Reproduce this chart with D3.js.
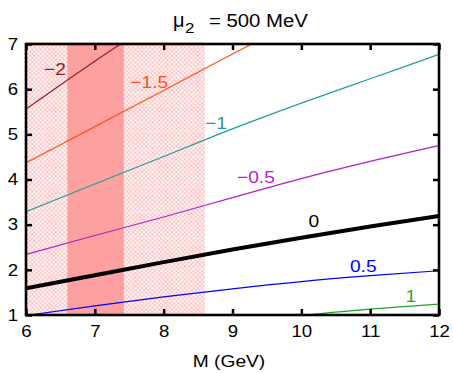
<!DOCTYPE html>
<html>
<head>
<meta charset="utf-8">
<script src="https://cdn.jsdelivr.net/npm/d3@7/dist/d3.min.js"></script>
<style>
  body { margin: 0; background: #fff; }
  text { font-family: "Liberation Sans", Arial, sans-serif; }
</style>
</head>
<body>
<figure id="chart" style="margin:0"></figure>
<script>
// chart values
const massGrid = [6, 7, 8, 9, 10, 11, 12];
const curveLevels = ['\u22122', '\u22121.5', '\u22121', '\u22120.5', '0', '0.5', '1'];
const curveValues = [
  [5.56, 6.62, 7.62, null, null, null, null],
  [4.37, 5.17, 5.97, 6.78, 7.55, null, null],
  [3.29, 3.90, 4.51, 5.12, 5.69, 6.23, 6.77],
  [2.34, 2.76, 3.17, 3.60, 4.02, 4.40, 4.75],
  [1.59, 1.88, 2.17, 2.45, 2.71, 2.96, 3.19],
  [0.99, 1.20, 1.40, 1.58, 1.74, 1.87, 1.98],
  [null, null, null, null, 0.99, 1.13, 1.24]
];
const curveColors = ['#9b1b1b', '#ff4f1a', '#1f9e9e', '#b51fc0', '#000000', '#0000ff', '#1faa1f'];
const curveWidths = [1.2, 1.2, 1.2, 1.2, 4, 1.2, 1.2];
// label anchors in data coordinates (M, value)
const labelMass = [6.42, 7.79, 8.76, 9.34, 10.18, 10.90, 11.59];
const labelValue = [6.31, 6.03, 5.12, 3.92, 2.95, 1.95, 1.29];
const hatchRange = [6, 8.59];
const solidRange = [6.6, 7.42];
const xTicks = [6, 7, 8, 9, 10, 11, 12];
const yTicks = [1, 2, 3, 4, 5, 6, 7];

const width = 453;
const height = 373;
const margin = {left: 26, right: 14, top: 44, bottom: 58};
const stretch = 'scale(1.13,1)';

const svg = d3.select('figure#chart')
  .append('svg')
  .attr('width', width)
  .attr('height', height);

const x = d3.scaleLinear().domain([6, 12]).range([margin.left, width - margin.right]);
const y = d3.scaleLinear().domain([1, 7]).range([height - margin.bottom, margin.top]);

const defs = svg.append('defs');
defs.append('clipPath').attr('id', 'plotClip')
  .append('rect')
  .attr('x', x(6)).attr('y', y(7))
  .attr('width', x(12) - x(6)).attr('height', y(1) - y(7));

const hatch = defs.append('pattern')
  .attr('id', 'hatch')
  .attr('patternUnits', 'userSpaceOnUse')
  .attr('width', 4.3)
  .attr('height', 4.3);
hatch.append('path')
  .attr('d', 'M0,0L4.3,4.3M4.3,0L0,4.3')
  .attr('stroke', '#ffbdbd')
  .attr('stroke-width', 0.9);

// excluded regions
svg.append('rect')
  .attr('x', x(hatchRange[0])).attr('y', y(7) - 1.5)
  .attr('width', x(hatchRange[1]) - x(hatchRange[0]))
  .attr('height', y(1) - y(7) + 1.5)
  .attr('fill', 'url(#hatch)')
  .attr('stroke', '#ffd6d6')
  .attr('stroke-width', 0.8);

svg.append('rect')
  .attr('x', x(solidRange[0])).attr('y', y(7))
  .attr('width', x(solidRange[1]) - x(solidRange[0]))
  .attr('height', y(1) - y(7))
  .attr('fill', '#ffa0a0');

// curves
const line = d3.line()
  .defined(d => d[1] !== null)
  .curve(d3.curveMonotoneX)
  .x(d => x(d[0]))
  .y(d => y(d[1]));

const curves = svg.append('g').attr('clip-path', 'url(#plotClip)');
curveValues.forEach((vals, i) => {
  curves.append('path')
    .datum(massGrid.map((m, j) => [m, vals[j]]))
    .attr('d', line)
    .attr('fill', 'none')
    .attr('stroke', curveColors[i])
    .attr('stroke-width', curveWidths[i])
    .attr('stroke-linejoin', 'round');
});

svg.append('g')
  .selectAll('g')
  .data(curveLevels)
  .enter().append('g')
  .attr('transform', (d, i) => `translate(${x(labelMass[i])},${y(labelValue[i])}) ${stretch}`)
  .append('text')
  .attr('text-anchor', 'middle')
  .attr('font-size', '17px')
  .attr('fill', (d, i) => curveColors[i])
  .text(d => d);

// axes, ticks pointing inward on every side
function styleAxis(g) {
  g.select('.domain').remove();
  g.selectAll('.tick line').attr('stroke', '#000').attr('stroke-width', 2.5);
  g.selectAll('text')
    .attr('font-size', '16.5px')
    .attr('font-family', '"Liberation Sans", Arial, sans-serif')
    .attr('fill', '#000')
    .attr('transform', stretch);
}

svg.append('g')
  .attr('transform', `translate(0,${y(1)})`)
  .call(d3.axisBottom(x).tickValues(xTicks).tickSize(-6).tickPadding(10).tickFormat(d3.format('d')))
  .call(styleAxis);

svg.append('g')
  .attr('transform', `translate(${x(6)},0)`)
  .call(d3.axisLeft(y).tickValues(yTicks).tickSize(-6).tickPadding(7).tickFormat(d3.format('d')))
  .call(styleAxis);

svg.append('g')
  .attr('transform', `translate(0,${y(7)})`)
  .call(d3.axisTop(x).tickValues(xTicks).tickSize(-6).tickFormat(''))
  .call(styleAxis);

svg.append('g')
  .attr('transform', `translate(${x(12)},0)`)
  .call(d3.axisRight(y).tickValues(yTicks).tickSize(-6).tickFormat(''))
  .call(styleAxis);

svg.append('rect')
  .attr('x', x(6)).attr('y', y(7))
  .attr('width', x(12) - x(6)).attr('height', y(1) - y(7))
  .attr('fill', 'none')
  .attr('stroke', '#000')
  .attr('stroke-width', 2.6);

// axis title
svg.append('g')
  .attr('transform', `translate(229,367) ${stretch}`)
  .append('text')
  .attr('text-anchor', 'middle')
  .attr('font-size', '17px')
  .text('M (GeV)');

// chart title
const title = svg.append('g');
title.append('text')
  .attr('x', 173).attr('y', 27)
  .attr('font-size', '20px')
  .attr('font-family', '"Liberation Serif", serif')
  .text('\u03bc');
title.append('g')
  .attr('transform', `translate(185,33) ${stretch}`)
  .append('text')
  .attr('font-size', '15px')
  .text('2');
title.append('g')
  .attr('transform', `translate(209,27) ${stretch}`)
  .append('text')
  .attr('font-size', '18px')
  .text('= 500 MeV');
</script>
</body>
</html>
